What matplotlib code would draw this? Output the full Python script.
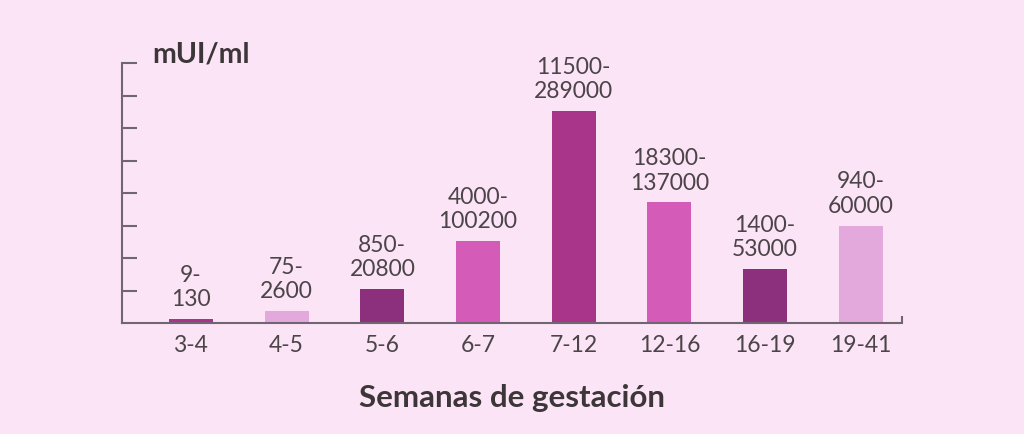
import matplotlib.pyplot as plt

# Rango de hCG por semanas de gestacion (alturas, unidades de la escala)
semanas = ['3-4', '4-5', '5-6', '6-7', '7-12', '12-16', '16-19', '19-41']
alturas = [0.12, 0.38, 1.05, 2.52, 6.53, 3.71, 1.66, 3.0]
rangos = ['9-\n130', '75-\n2600', '850-\n20800', '4000-\n100200',
          '11500-\n289000', '18300-\n137000', '1400-\n53000', '940-\n60000']
colores = ['#a8358a', '#e3a9dc', '#8c2f7c', '#d45cb8',
           '#a8358a', '#d45cb8', '#8c2f7c', '#e3a9dc']

bg = '#fce4f7'
axis_col = '#6f6670'
text_col = '#4b4448'
plt.rcParams['font.family'] = ['Lato', 'DejaVu Sans']

fig = plt.figure(figsize=(10.24, 4.35), dpi=100, facecolor=bg)
ax = fig.add_axes([122 / 1024, 111 / 435, 780 / 1024, 260 / 435])
ax.set_facecolor(bg)

x = range(len(semanas))
ax.bar(x, alturas, width=0.46, color=colores, zorder=2)

for xi, h, txt in zip(x, alturas, rangos):
    ax.annotate(txt, (xi, h), xytext=(0, 7), textcoords='offset points',
                ha='center', va='bottom', fontsize=16.5, color=text_col,
                linespacing=1.2)

ax.set_xlim(-0.72, 7.43)
ax.set_ylim(0, 8)
ax.set_yticks(range(1, 9))
ax.set_yticklabels([])
ax.tick_params(axis='y', direction='in', length=10.5, width=1.5, color=axis_col)
ax.set_xticks(list(x))
ax.set_xticklabels(semanas, fontsize=16.5, color=text_col)
ax.tick_params(axis='x', length=0, pad=8)
ax.set_xticks([7.43], minor=True)
ax.tick_params(axis='x', which='minor', direction='in', length=5, width=1.5, color=axis_col)

for s in ['top', 'right']:
    ax.spines[s].set_visible(False)
for s in ['left', 'bottom']:
    ax.spines[s].set_color(axis_col)
    ax.spines[s].set_linewidth(1.5)

fig.text(152 / 1024, 1 - 55 / 435, 'mUI/ml', fontsize=20.5, fontweight='bold',
         color='#3d3639', ha='left', va='center')
fig.text(512 / 1024, 1 - 398 / 435, 'Semanas de gestación', fontsize=22.5,
         fontweight='bold', color='#3d3639', ha='center', va='center')

fig.savefig('out.png', dpi=100, facecolor=bg)
